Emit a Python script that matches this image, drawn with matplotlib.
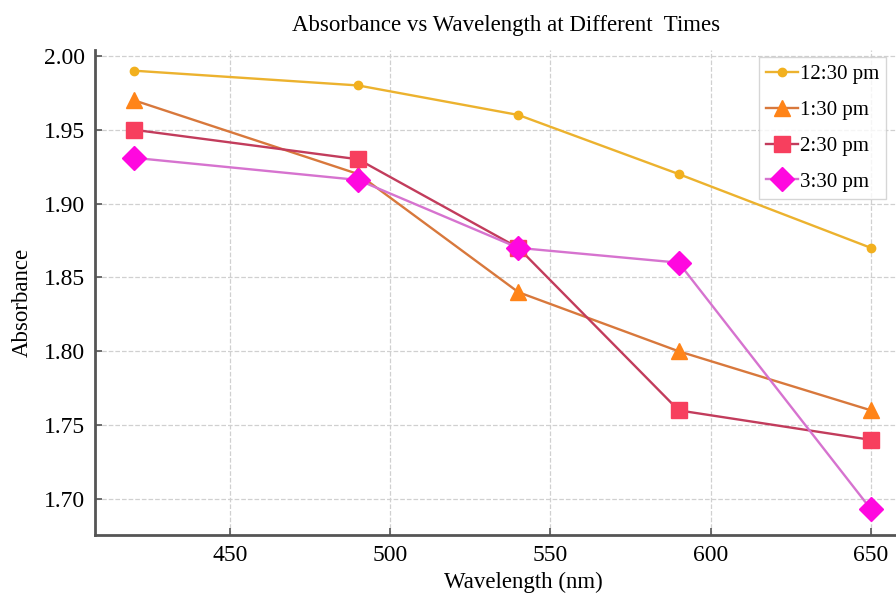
import matplotlib
matplotlib.use('Agg')
import matplotlib.pyplot as plt

wavelength = [420, 490, 540, 590, 650]
abs_1230 = [1.99, 1.98, 1.96, 1.92, 1.87]
abs_130 = [1.97, 1.92, 1.84, 1.80, 1.76]
abs_230 = [1.95, 1.93, 1.87, 1.76, 1.74]
abs_330 = [1.931, 1.916, 1.87, 1.86, 1.693]
labels = ['12:30 pm', '1:30 pm', '2:30 pm', '3:30 pm']

plt.rcParams['font.family'] = ['Liberation Serif', 'DejaVu Serif']

fig = plt.figure(figsize=(8.96, 5.95), dpi=100)
ax = fig.add_axes([95 / 896, 60 / 595, 801 / 896, 485 / 595])

# line colour, marker, marker colour, marker size
styles = [
    ('#ecb22e', 'o', '#f2b01e', 6),
    ('#d8783c', '^', '#ff8418', 12),
    ('#c23c5c', 's', '#f73f5e', 11),
    ('#d673cf', 'D', '#ff08df', 12),
]
for ys, lab, (lc, mk, mc, ms) in zip([abs_1230, abs_130, abs_230, abs_330], labels, styles):
    ax.plot(wavelength, ys, color=lc, lw=1.7, marker=mk, markersize=ms,
            markerfacecolor=mc, markeredgecolor=mc, label=lab)

ax.set_xlim(407.9, 657.8)
ax.set_ylim(1.6756, 2.004)
ax.set_xticks([450, 500, 550, 600, 650])
ax.set_yticks([1.70, 1.75, 1.80, 1.85, 1.90, 1.95, 2.00])
ax.set_yticklabels(['1.70', '1.75', '1.80', '1.85', '1.90', '1.95', '2.00'])
ax.tick_params(direction='in', length=5, width=1.2, color='#555555', labelsize=17, pad=7)
ax.grid(True, ls='--', color='#d0d0d0', lw=0.9)
for s in ['top', 'right']:
    ax.spines[s].set_visible(False)
for s in ['left', 'bottom']:
    ax.spines[s].set_color('#555555')
    ax.spines[s].set_linewidth(2)

ax.set_xlabel('Wavelength (nm)', fontsize=16.5)
ax.xaxis.set_label_coords(0.535, -0.075)
ax.set_ylabel('Absorbance', fontsize=16.5)
ax.yaxis.set_label_coords(-0.078, 0.48)
fig.text(0.565, 0.957, 'Absorbance vs Wavelength at Different  Times', fontsize=16.5, ha='center', va='center')

ax.legend(loc='upper left', bbox_to_anchor=(664 / 801, 0.985), borderaxespad=0, fontsize=15,
          frameon=True, edgecolor='#cccccc', fancybox=False, handlelength=1.5,
          handletextpad=0.1, borderpad=0.35, labelspacing=0.78)

fig.savefig('out.png', dpi=100)
